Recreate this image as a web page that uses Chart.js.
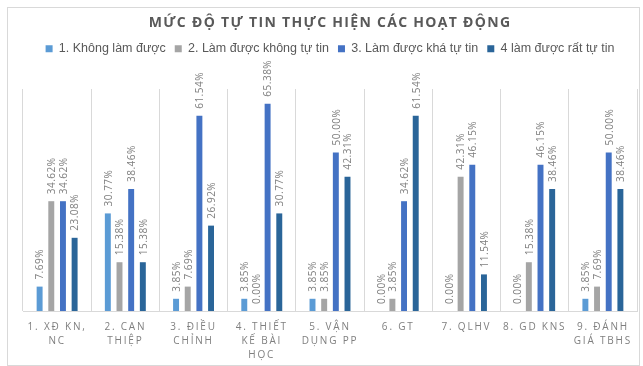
<!DOCTYPE html>
<html>
<head>
<meta charset="utf-8">
<script src="https://cdn.jsdelivr.net/npm/chart.js@4.4.1/dist/chart.umd.min.js"></script>
<style>
html,body{margin:0;padding:0;background:#ffffff;overflow:hidden;}
canvas{display:block;}
</style>
</head>
<body>
<canvas id="c" width="643" height="366"></canvas>
<script>
// ---- data ----
const categories = [
  ["1. XĐ KN,", "NC"],
  ["2. CAN", "THIỆP"],
  ["3. ĐIỀU", "CHỈNH"],
  ["4. THIẾT", "KẾ BÀI", "HỌC"],
  ["5. VẬN", "DỤNG PP"],
  ["6. GT"],
  ["7. QLHV"],
  ["8. GD KNS"],
  ["9. ĐÁNH", "GIÁ TBHS"]
];
const seriesNames = [
  "1. Không làm được",
  "2. Làm được không tự tin",
  "3. Làm được khá tự tin",
  "4 làm được rất tự tin"
];
const khongLamDuoc   = [7.69, 30.77, 3.85, 3.85, 3.85, 0.00, 0.00, 0.00, 3.85];
const khongTuTin     = [34.62, 15.38, 7.69, 0.00, 3.85, 3.85, 42.31, 15.38, 7.69];
const khaTuTin       = [34.62, 38.46, 61.54, 65.38, 50.00, 34.62, 46.15, 46.15, 50.00];
const ratTuTin       = [23.08, 15.38, 26.92, 30.77, 42.31, 61.54, 11.54, 38.46, 38.46];
const titleText = "MỨC ĐỘ TỰ TIN THỰC HIỆN CÁC HOẠT ĐỘNG";

const colors = ["#5B9BD5", "#A5A5A5", "#4472C4", "#2A6599"];
const seriesValues = [khongLamDuoc, khongTuTin, khaTuTin, ratTuTin];

const framePlugin = {
  id: 'frame',
  beforeInit(chart) {
    const lg = chart.legend;
    if (lg && !lg._patched) {
      const orig = lg.fit;
      lg.fit = function () { orig.apply(this, arguments); this.height += 24; };
      lg._patched = true;
    }
  },
  beforeDraw(chart) {
    const ctx = chart.ctx;
    ctx.save();
    ctx.fillStyle = '#ffffff';
    ctx.fillRect(0, 0, chart.width, chart.height);
    ctx.strokeStyle = '#d9d9d9';
    ctx.lineWidth = 1;
    ctx.strokeRect(7.5, 7.5, 632, 358);
    ctx.restore();
    const tb = chart.titleBlock;
    if (tb && !tb._patched) {
      const o = tb.draw;
      tb.draw = function () { const c = this.ctx; c.save(); c.letterSpacing = '1.3px'; o.apply(this, arguments); c.restore(); };
      tb._patched = true;
    }
    const xs = chart.scales.x;
    if (xs && !xs._patched) {
      const o2 = xs.drawLabels;
      xs.drawLabels = function () { const c = this.ctx; c.save(); c.letterSpacing = '1.8px'; o2.apply(this, arguments); c.restore(); };
      xs._patched = true;
    }
  },
  afterDatasetsDraw(chart) {
    const ctx = chart.ctx;
    ctx.save();
    ctx.font = '10px "Open Sans"';
    ctx.letterSpacing = '0.5px';
    ctx.fillStyle = '#7f7f7f';
    ctx.textAlign = 'left';
    ctx.textBaseline = 'middle';
    chart.data.datasets.forEach((ds, di) => {
      const meta = chart.getDatasetMeta(di);
      meta.data.forEach((el, i) => {
        const v = ds.data[i];
        const txt = v.toFixed(2) + '%';
        ctx.save();
        ctx.translate(el.x + 1, el.y - 7);
        ctx.rotate(-Math.PI / 2);
        ctx.fillText(txt, 0, 0);
        ctx.restore();
      });
    });
    ctx.restore();
  }
};

new Chart(document.getElementById('c'), {
  type: 'bar',
  data: {
    labels: categories,
    datasets: seriesNames.map((n, i) => ({
      label: n,
      data: seriesValues[i],
      backgroundColor: colors[i],
      borderWidth: 0,
      categoryPercentage: 0.684,
      barPercentage: 0.51
    }))
  },
  options: {
    responsive: false,
    animation: false,
    devicePixelRatio: 1,
    layout: { padding: { top: 8, left: 23, right: 6, bottom: -5 } },
    plugins: {
      title: {
        display: true,
        text: titleText,
        color: '#595959',
        font: { family: 'Open Sans', size: 14, weight: 'bold', lineHeight: 1.2 },
        padding: { top: 7, bottom: 1.7 }
      },
      legend: {
        display: true,
        labels: {
          boxWidth: 7,
          boxHeight: 7,
          color: '#595959',
          font: { family: 'Liberation Sans', size: 12.5 },
          padding: 9
        }
      },
      tooltip: { enabled: false }
    },
    scales: {
      x: {
        grid: { display: true, offset: true, color: '#d9d9d9', drawTicks: false },
        border: { display: true, color: '#d9d9d9' },
        ticks: {
          color: '#7f7f7f',
          font: { family: 'Open Sans', size: 10, lineHeight: 1.4 },
          padding: 9,
          maxRotation: 0,
          minRotation: 0,
          autoSkip: false
        }
      },
      y: { display: false, min: 0, max: 70 }
    }
  },
  plugins: [framePlugin]
});
</script>
</body>
</html>
